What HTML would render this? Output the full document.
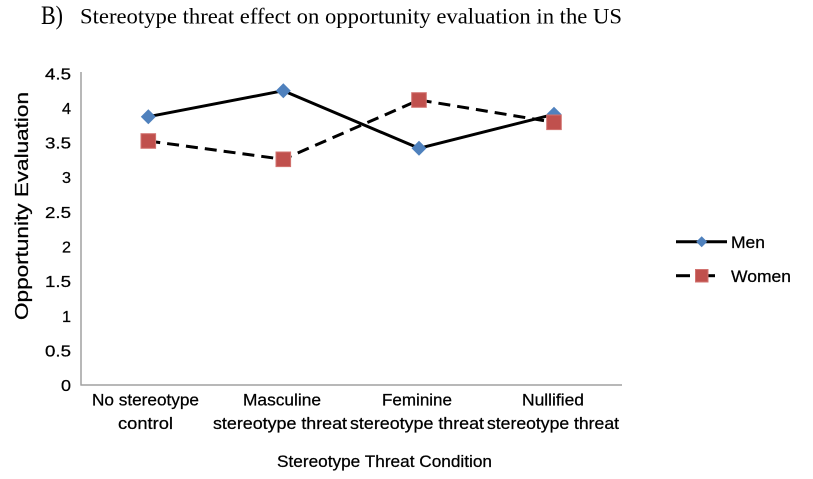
<!DOCTYPE html>
<html>
<head>
<meta charset="utf-8">
<style>
  html, body { margin: 0; padding: 0; background: #ffffff; }
  svg { display: block; }
  .serif { font-family: "Liberation Serif", serif; fill: #000; }
  .sans { font-family: "Liberation Sans", sans-serif; fill: #000; stroke: #000; stroke-width: 0.25; }
</style>
</head>
<body>
<svg width="813" height="479" viewBox="0 0 813 479" xmlns="http://www.w3.org/2000/svg">
  <rect x="0" y="0" width="813" height="479" fill="#ffffff"/>

  <!-- Title -->
  <text class="serif" x="41" y="24" font-size="26" textLength="22" lengthAdjust="spacingAndGlyphs">B)</text>
  <text class="serif" x="80" y="23.3" font-size="22.5" textLength="542" lengthAdjust="spacingAndGlyphs">Stereotype threat effect on opportunity evaluation in the US</text>

  <!-- Axes -->
  <line x1="81" y1="72" x2="81" y2="385.5" stroke="#a0a0a0" stroke-width="1.5"/>
  <line x1="80.5" y1="385" x2="622" y2="385" stroke="#a0a0a0" stroke-width="1.5"/>

  <!-- Y tick labels -->
  <g class="sans" font-size="16">
    <text x="45" y="79.5" textLength="26" lengthAdjust="spacingAndGlyphs">4.5</text>
    <text x="62" y="114" textLength="9" lengthAdjust="spacingAndGlyphs">4</text>
    <text x="45" y="148.5" textLength="26" lengthAdjust="spacingAndGlyphs">3.5</text>
    <text x="62" y="183.2" textLength="9" lengthAdjust="spacingAndGlyphs">3</text>
    <text x="45" y="217.8" textLength="26" lengthAdjust="spacingAndGlyphs">2.5</text>
    <text x="62" y="252.5" textLength="9" lengthAdjust="spacingAndGlyphs">2</text>
    <text x="45" y="287.2" textLength="26" lengthAdjust="spacingAndGlyphs">1.5</text>
    <text x="62" y="321.8" textLength="9" lengthAdjust="spacingAndGlyphs">1</text>
    <text x="45" y="356.5" textLength="26" lengthAdjust="spacingAndGlyphs">0.5</text>
    <text x="61" y="391" textLength="10" lengthAdjust="spacingAndGlyphs">0</text>
  </g>

  <!-- Y axis title -->
  <text class="sans" font-size="18" text-anchor="middle" transform="translate(28,206) rotate(-90)" textLength="228" lengthAdjust="spacingAndGlyphs">Opportunity Evaluation</text>

  <!-- X category labels -->
  <g class="sans" font-size="16.5">
    <text x="92" y="405.5" textLength="107" lengthAdjust="spacingAndGlyphs">No stereotype</text>
    <text x="118" y="429" textLength="55" lengthAdjust="spacingAndGlyphs">control</text>

    <text x="243" y="405.5" textLength="78" lengthAdjust="spacingAndGlyphs">Masculine</text>
    <text x="213" y="429" textLength="134" lengthAdjust="spacingAndGlyphs">stereotype threat</text>

    <text x="382" y="405.5" textLength="70" lengthAdjust="spacingAndGlyphs">Feminine</text>
    <text x="350" y="429" textLength="134" lengthAdjust="spacingAndGlyphs">stereotype threat</text>

    <text x="522" y="405.5" textLength="62" lengthAdjust="spacingAndGlyphs">Nullified</text>
    <text x="487" y="429" textLength="132" lengthAdjust="spacingAndGlyphs">stereotype threat</text>
  </g>

  <!-- X axis title -->
  <text class="sans" x="277" y="467" font-size="16.5" textLength="215" lengthAdjust="spacingAndGlyphs">Stereotype Threat Condition</text>

  <!-- Men series -->
  <polyline points="148.3,116.7 283.3,90.7 419,148.3 554,114.3" fill="none" stroke="#000" stroke-width="3" stroke-linejoin="round"/>
  <g fill="#4F81BD">
    <polygon points="148.3,109.2 155.8,116.7 148.3,124.2 140.8,116.7"/>
    <polygon points="283.3,83.2 290.8,90.7 283.3,98.2 275.8,90.7"/>
    <polygon points="419,140.8 426.5,148.3 419,155.8 411.5,148.3"/>
    <polygon points="554,106.8 561.5,114.3 554,121.8 546.5,114.3"/>
  </g>

  <!-- Women series -->
  <polyline points="148.3,141 283.3,159.3 419,100 554,122.3" fill="none" stroke="#000" stroke-width="3" stroke-dasharray="12 7"/>
  <g fill="#C0504D" stroke="#D27370" stroke-width="1">
    <rect x="141" y="133.7" width="14.6" height="14.6"/>
    <rect x="276" y="152" width="14.6" height="14.6"/>
    <rect x="411.7" y="92.7" width="14.6" height="14.6"/>
    <rect x="546.7" y="115" width="14.6" height="14.6"/>
  </g>

  <!-- Legend -->
  <line x1="676" y1="241.7" x2="727" y2="241.7" stroke="#000" stroke-width="3"/>
  <polygon points="701.7,236.2 707.2,241.7 701.7,247.2 696.2,241.7" fill="#4F81BD"/>
  <text class="sans" x="731" y="248" font-size="16.5" textLength="34" lengthAdjust="spacingAndGlyphs">Men</text>

  <line x1="676" y1="275.7" x2="690" y2="275.7" stroke="#000" stroke-width="3"/>
  <line x1="707" y1="275.7" x2="715" y2="275.7" stroke="#000" stroke-width="3"/>
  <rect x="695.5" y="269.5" width="12.5" height="12.5" fill="#C0504D" stroke="#D27370" stroke-width="1"/>
  <text class="sans" x="731" y="282" font-size="16.5" textLength="60" lengthAdjust="spacingAndGlyphs">Women</text>
</svg>
</body>
</html>
